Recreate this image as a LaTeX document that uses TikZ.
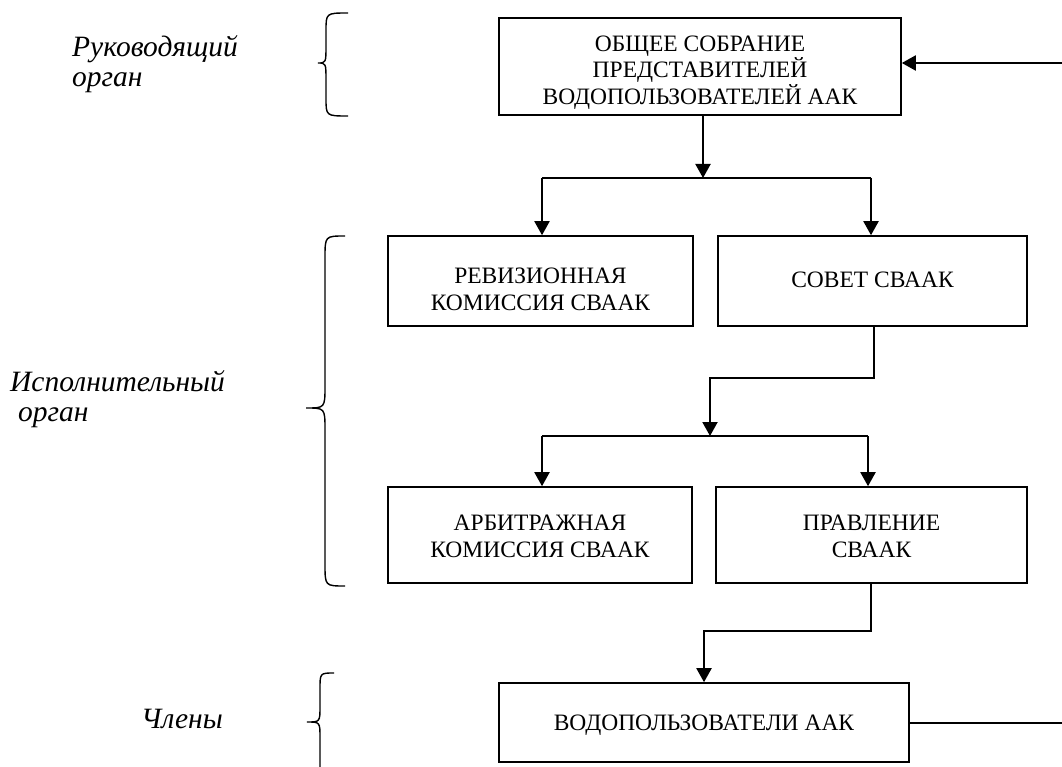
\documentclass[tikz,border=0pt]{standalone}
\usepackage{fontspec}
\setmainfont{Liberation Serif}
\usetikzlibrary{arrows.meta}
\newcommand{\mybrace}[7]{% end x, spine x, tip x, top y, mid y, bottom y, radius
  \draw[bracestyle] (#1,#4) .. controls (#2,#4) .. (#2,{#4+#7}) -- (#2,{#5-#7}) .. controls (#2,#5) .. (#3,#5) .. controls (#2,#5) .. (#2,{#5+#7}) -- (#2,{#6-#7}) .. controls (#2,#6) .. (#1,#6);}
\begin{document}
\begin{tikzpicture}[x=1pt,y=-1pt,
  box/.style={draw, line width=1.6pt, inner sep=0pt},
  txt/.style={inner sep=0pt, align=center, font=\fontsize{23.5}{26.5}\selectfont},
  conn/.style={line width=2pt},
  arr/.style={conn, -{Triangle[length=14pt,width=15pt]}},
  lab/.style={inner sep=0pt, align=left, font=\fontsize{29.5}{30}\selectfont\itshape},
  bracestyle/.style={line width=1.4pt}]
\useasboundingbox (0,0) rectangle (1062,767);
\fill[white] (0,0) rectangle (1062,767);

% boxes
\node[box, minimum width=402pt, minimum height=97pt] (top) at (700,66.5) {};
\node[txt] (topt) at (700,72.5) {ОБЩЕЕ СОБРАНИЕ\\ПРЕДСТАВИТЕЛЕЙ\\ВОДОПОЛЬЗОВАТЕЛЕЙ ААК};
\node[box, minimum width=305pt, minimum height=90pt] (rev) at (540.5,281) {};
\node[txt] (revt) at (540.5,289.5) {РЕВИЗИОННАЯ\\КОМИССИЯ СВААК};
\node[box, minimum width=309pt, minimum height=90pt] (sov) at (872.5,281) {};
\node[txt] (sovt) at (872.5,280) {СОВЕТ СВААК};
\node[box, minimum width=304pt, minimum height=96pt] (arb) at (540,535) {};
\node[txt] (arbt) at (540,536.5) {АРБИТРАЖНАЯ\\КОМИССИЯ СВААК};
\node[box, minimum width=311pt, minimum height=96pt] (prav) at (871.5,535) {};
\node[txt] (pravt) at (871.5,536.5) {ПРАВЛЕНИЕ\\СВААК};
\node[box, minimum width=410pt, minimum height=79pt] (bot) at (704,722.5) {};
\node[txt] (bott) at (704,725) {ВОДОПОЛЬЗОВАТЕЛИ ААК};

% labels
\node[lab, anchor=west] (l1) at (72,64) {Руководящий\\орган};
\node[lab, anchor=west] (l2) at (10,399.5) {Исполнительный\\\hspace{8pt}орган};
\node[lab] (l3) at (182,719) {Члены};

% braces
\mybrace{348}{326}{318}{13}{63}{116}{18}
\mybrace{345}{325}{306}{236}{408}{586}{22}
\mybrace{334}{320}{307}{673}{722}{790}{16}

% connectors
\coordinate (j1) at (703,178);
\coordinate (j1l) at (542,178);
\coordinate (j1r) at (871,178);
\draw[arr] (top.south -| j1) -- (j1);
\draw[conn] (j1l) -- (j1r);
\draw[arr] (j1l) -- (rev.north -| j1l);
\draw[arr] (j1r) -- (sov.north -| j1r);

\coordinate (s1) at (874,378);
\coordinate (s2) at (710,378);
\coordinate (j2) at (710,436);
\draw[arr] (sov.south -| s1) -- (s1) -- (s2) -- (j2);
\coordinate (j2l) at (542,436);
\coordinate (j2r) at (868,436);
\draw[conn] (j2l) -- (j2r);
\draw[arr] (j2l) -- (arb.north -| j2l);
\draw[arr] (j2r) -- (prav.north -| j2r);

\coordinate (p1) at (871,631);
\coordinate (p2) at (704,631);
\draw[arr] (prav.south -| p1) -- (p1) -- (p2) -- (bot.north -| p2);

\coordinate (re1) at (1062,723);
\coordinate (re2) at (1062,63);
\draw[conn] (bot.east |- re1) -- (re1);
\draw[arr] (re2) -- (top.east |- re2);
\end{tikzpicture}
\end{document}
